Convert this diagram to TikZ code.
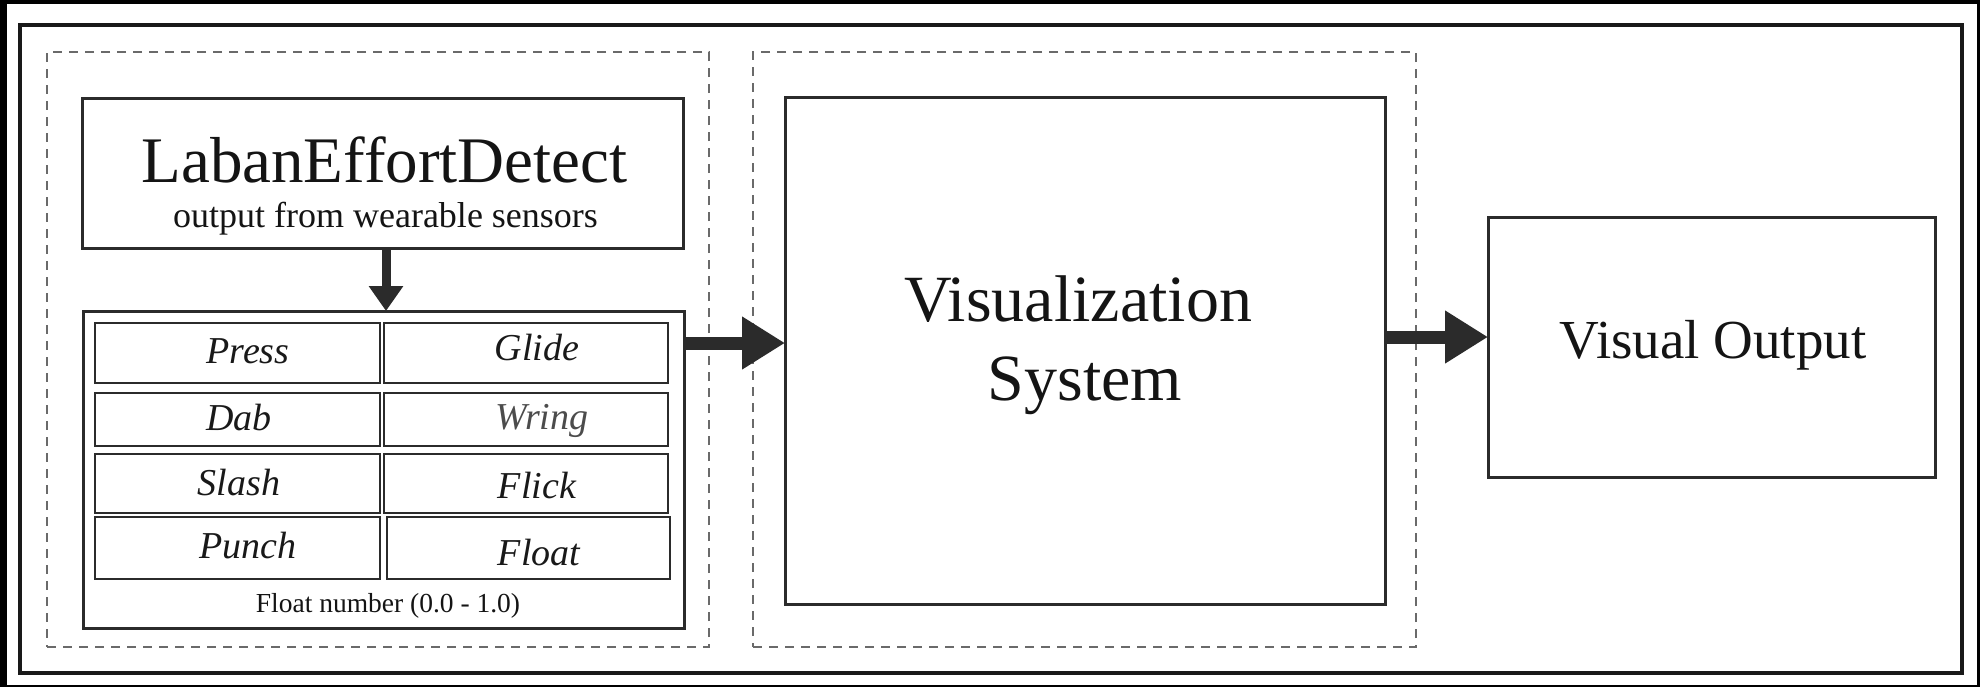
\documentclass[tikz,border=0pt]{standalone}
\usepackage{fontspec}
\setmainfont{Liberation Serif}
\usetikzlibrary{arrows.meta}
\definecolor{ink}{HTML}{2B2B2B}
\definecolor{dashc}{HTML}{6A6A6A}
\tikzset{
  box/.style={draw=ink, line width=1.5pt, inner sep=0pt, outer sep=0pt, fill=white},
  cell/.style={draw=ink, line width=1.3pt, inner sep=0pt, outer sep=0pt},
  dbox/.style={draw=dashc, line width=1.2pt, dash pattern=on 4.5pt off 3.5pt, inner sep=0pt, outer sep=0pt},
  frame/.style={draw=black!90, line width=2pt, inner sep=0pt, outer sep=0pt},
  bigarrow/.style={draw=ink, line width=6.5pt, -{Triangle[length=21.5pt, width=25pt]}},
  smallarrow/.style={draw=ink, line width=4.5pt, -{Triangle[length=12.5pt, width=16.5pt]}},
  lab/.style={anchor=base, inner sep=0pt, font=\fontsize{19}{22}\selectfont\itshape, text=black!90},
  txt/.style={anchor=base, inner sep=0pt, text=black!92}
}
\begin{document}
\begin{tikzpicture}[x=0.5pt, y=-0.5pt]
\fill[black] (0,0) rectangle (1980,687);
\fill[white] (7,4) rectangle (1977,685);
\useasboundingbox (0,0) rectangle (1980,687);

% outer frame and dashed groups
\node[frame, minimum width=971pt, minimum height=324pt] (outer) at (991,349) {};
\node[dbox, minimum width=331pt, minimum height=297.5pt] (grp1) at (378,349.5) {};
\node[dbox, minimum width=331.5pt, minimum height=297.5pt] (grp2) at (1084.5,349.5) {};

% main boxes
\node[box, minimum width=300.5pt, minimum height=75pt] (led) at (382.5,173) {};
\node[box, minimum width=300.5pt, minimum height=158.5pt] (tbl) at (383.5,469.5) {};
\node[box, minimum width=300pt, minimum height=253.5pt] (vis) at (1085,350.5) {};
\node[box, minimum width=223.5pt, minimum height=130pt] (out) at (1711.5,347) {};

% texts
\node[txt, font=\fontsize{32.5}{39}\selectfont] (ledt) at (384.5,182) {LabanEffortDetect};
\node[txt, font=\fontsize{18}{21}\selectfont] (leds) at (385.5,227) {output from wearable sensors};
\node[txt, font=\fontsize{33}{40}\selectfont] (vis1) at (1078,321) {Visualization};
\node[txt, font=\fontsize{33}{40}\selectfont] (vis2) at (1085,400) {System};
\node[txt, font=\fontsize{27.5}{33}\selectfont] (outt) at (1713,358) {Visual Output};
\node[txt, font=\fontsize{13.75}{16}\selectfont] (fnum) at (388,612) {Float number (0.0 - 1.0)};

% cells
\node[cell, minimum width=142.5pt, minimum height=30pt] (c11) at (237.5,353) {};
\node[cell, minimum width=142pt, minimum height=30pt] (c12) at (526,353) {};
\node[cell, minimum width=142.5pt, minimum height=26.5pt] (c21) at (237.5,419.5) {};
\node[cell, minimum width=142pt, minimum height=26.5pt] (c22) at (526,419.5) {};
\node[cell, minimum width=142.5pt, minimum height=29.5pt] (c31) at (237.5,483.5) {};
\node[cell, minimum width=142pt, minimum height=29.5pt] (c32) at (526,483.5) {};
\node[cell, minimum width=142.5pt, minimum height=31pt] (c41) at (237.5,548) {};
\node[cell, minimum width=141.5pt, minimum height=31pt] (c42) at (528.5,548) {};

\node[lab] (l11) at (248,363) {Press};
\node[lab] (l12) at (537,360) {Glide};
\node[lab] (l21) at (239,430) {Dab};
\node[lab, text=black!70] (l22) at (542,429) {Wring};
\node[lab] (l31) at (239,495) {Slash};
\node[lab] (l32) at (537,498) {Flick};
\node[lab] (l41) at (248,558) {Punch};
\node[lab] (l42) at (539,565) {Float};

% connectors
\coordinate (d1) at (386,0);
\coordinate (a1) at (0,343);
\coordinate (a2) at (0,337);
\draw[smallarrow] (led.south -| d1) -- (tbl.north -| d1);
\draw[bigarrow] (tbl.east |- a1) -- (vis.west |- a1);
\draw[bigarrow] (vis.east |- a2) -- (out.west |- a2);
\end{tikzpicture}
\end{document}
